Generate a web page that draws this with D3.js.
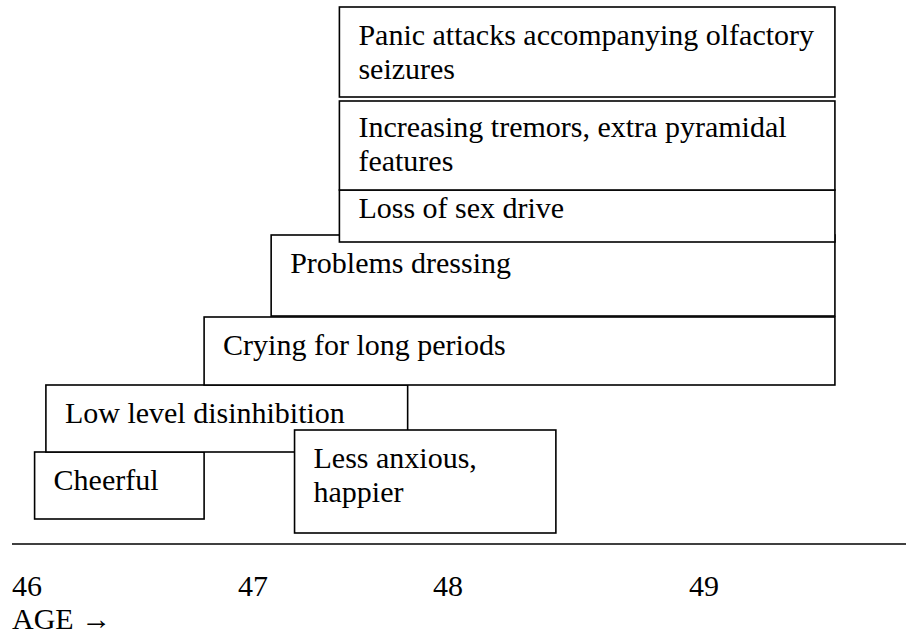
<!DOCTYPE html>
<html>
<head>
<meta charset="utf-8">
<script src="https://d3js.org/d3.v7.min.js"></script>
<style>
  body { margin: 0; background: #fff; }
  svg { display: block; }
  .box { fill: #fff; stroke: #000; stroke-width: 1.6; }
</style>
</head>
<body>
<svg id="stage" width="906" height="634"></svg>
<script>
// symptoms, in drawing order (later ones sit on top)
var symptoms = [
    "Cheerful",
    "Low level disinhibition",
    "Less anxious, happier",
    "Crying for long periods",
    "Problems dressing",
    "Loss of sex drive",
    "Increasing tremors, extra pyramidal features",
    "Panic attacks accompanying olfactory seizures"
];
// age at which each symptom starts and stops
var startAge = [46.10, 46.15, 47.29, 46.85, 47.17, 47.52, 47.52, 47.52];
var endAge = [46.85, 47.87, 48.48, 49.57, 49.57, 49.57, 49.57, 49.57];
// wrapped text lines as they appear in each box
var labelLines = [
    ["Cheerful"],
    ["Low level disinhibition"],
    ["Less anxious,", "happier"],
    ["Crying for long periods"],
    ["Problems dressing"],
    ["Loss of sex drive"],
    ["Increasing tremors, extra pyramidal", "features"],
    ["Panic attacks accompanying olfactory", "seizures"]
];
var ageTicks = [46, 47, 48, 49];
var axisTitle = "AGE \u2192";

var Chart;
(function (Chart) {
    var FONT = '"Liberation Serif", "Times New Roman", Times, "DejaVu Serif", serif';

    // the printed age marks are not evenly spaced, so the scale is piecewise
    var x = d3.scaleLinear()
        .domain(ageTicks)
        .range([12, 238, 433, 689]);

    // vertical layout of the boxes: top, bottom, first baseline offset
    var rows = [
        [452, 519, 38],
        [385, 452, 38],
        [430, 533, 38],
        [317, 385, 38],
        [235, 316, 38],
        [190, 242, 28],
        [101, 190, 36],
        [7, 97, 38]
    ];
    var lineGap = 34;
    var padLeft = 19;
    var axisY = 544;

    function text(sel) {
        return sel.attr("font-family", FONT)
            .attr("font-size", 30)
            .attr("fill", "#000");
    }

    function draw() {
        var svg = d3.select("#stage");
        var data = symptoms.map(function (name, i) {
            return { name: name, start: startAge[i], end: endAge[i], lines: labelLines[i], row: rows[i] };
        });

        var g = svg.selectAll("g.symptom")
            .data(data)
            .enter().append("g")
            .attr("class", "symptom");

        g.append("rect")
            .attr("class", "box")
            .attr("x", function (d) { return x(d.start); })
            .attr("y", function (d) { return d.row[0]; })
            .attr("width", function (d) { return x(d.end) - x(d.start); })
            .attr("height", function (d) { return d.row[1] - d.row[0]; });

        g.each(function (d) {
            var t = d3.select(this).append("text")
                .attr("x", x(d.start) + padLeft)
                .attr("y", d.row[0] + d.row[2])
                .call(text);
            t.selectAll("tspan")
                .data(d.lines)
                .enter().append("tspan")
                .attr("x", x(d.start) + padLeft)
                .attr("dy", function (l, j) { return j === 0 ? 0 : lineGap; })
                .text(function (l) { return l; });
        });

        // age axis: plain rule with left aligned labels below it
        svg.append("line")
            .attr("x1", 12)
            .attr("x2", 906)
            .attr("y1", axisY)
            .attr("y2", axisY)
            .attr("stroke", "#000")
            .attr("stroke-width", 1.6);

        svg.selectAll("text.tick-label")
            .data(ageTicks)
            .enter().append("text")
            .attr("class", "tick-label")
            .attr("x", function (d) { return x(d); })
            .attr("y", axisY + 52)
            .call(text)
            .text(function (d) { return d; });

        svg.append("text")
            .attr("x", x(ageTicks[0]))
            .attr("y", axisY + 85)
            .call(text)
            .text(axisTitle);
    }
    Chart.draw = draw;
})(Chart || (Chart = {}));
Chart.draw();
</script>
</body>
</html>
